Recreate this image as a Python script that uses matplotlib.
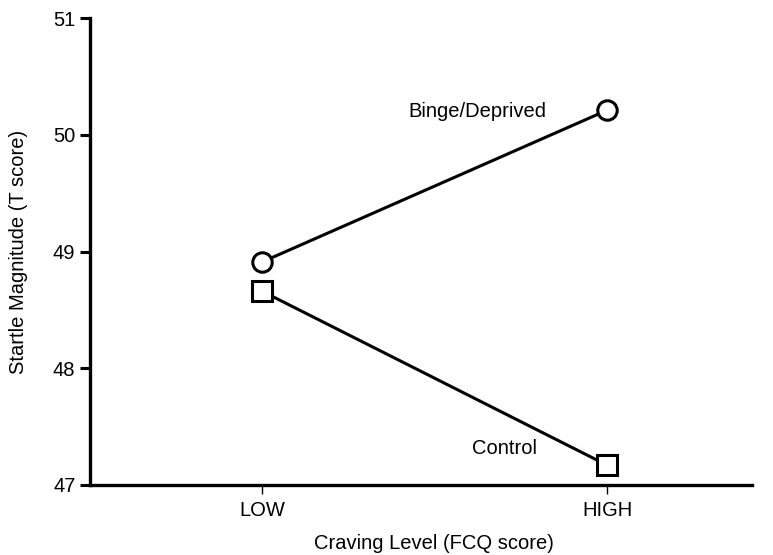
import matplotlib
matplotlib.use("Agg")
import matplotlib.pyplot as plt

plt.rcParams['font.family'] = ['Liberation Sans', 'DejaVu Sans']

# Craving level categories and mean startle magnitude (T score) per group
levels = ["LOW", "HIGH"]
binge_deprived = [48.91, 50.21]
control = [48.66, 47.17]

x = list(range(len(levels)))
FS = 14.5

fig = plt.figure(figsize=(7.73, 5.55), dpi=100)
ax = fig.add_axes([90 / 773, 70 / 555, 662 / 773, 467 / 555])

line_kw = dict(color="black", linewidth=2.2, markerfacecolor="white",
               markeredgecolor="black", markeredgewidth=2.2, zorder=3, clip_on=False)
ax.plot(x, binge_deprived, marker="o", markersize=14, **line_kw)
ax.plot(x, control, marker="s", markersize=14, **line_kw)

ax.text(0.623, 50.195, "Binge/Deprived", fontsize=FS, ha="center", va="center")
ax.text(0.704, 47.31, "Control", fontsize=FS, ha="center", va="center")

ax.set_xlim(-0.4986, 1.42)
ax.set_ylim(47, 51)
ax.set_yticks([47, 48, 49, 50, 51])
ax.set_xticks(x)
ax.set_xticklabels(levels)

for side in ("top", "right"):
    ax.spines[side].set_visible(False)
for side in ("left", "bottom"):
    ax.spines[side].set_linewidth(2.4)

ax.tick_params(axis="y", direction="out", length=7, width=2.2, labelsize=FS, pad=3.5)
ax.tick_params(axis="x", direction="out", length=6.5, width=1.0, labelsize=FS, pad=5)

ax.set_xlabel("Craving Level (FCQ score)", fontsize=FS)
ax.set_ylabel("Startle Magnitude (T score)", fontsize=FS)
ax.xaxis.set_label_coords(0.52, -0.105)
ax.yaxis.set_label_coords(-0.094, 0.5)

fig.savefig("out.png", dpi=100)
